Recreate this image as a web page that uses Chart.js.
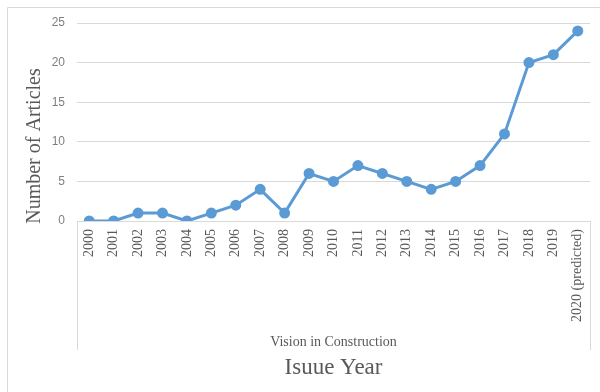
<!DOCTYPE html>
<html>
<head>
<meta charset="utf-8">
<script src="https://cdn.jsdelivr.net/npm/chart.js@4/dist/chart.umd.min.js"></script>
<style>
  html, body { margin: 0; padding: 0; background: #fff; }
  #wrap { width: 600px; height: 392px; }
</style>
</head>
<body>
<div id="wrap"><canvas id="chart" width="600" height="392"></canvas></div>
<script>
const years = ['2000', '2001', '2002', '2003', '2004', '2005', '2006', '2007', '2008', '2009', '2010',
  '2011', '2012', '2013', '2014', '2015', '2016', '2017', '2018', '2019', '2020 (predicted)'];
const articles = [0, 0, 1, 1, 0, 1, 2, 4, 1, 6, 5, 7, 6, 5, 4, 5, 7, 11, 20, 21, 24];
const groupLabel = 'Vision in Construction';
const xTitle = 'Isuue Year';
const yTitle = 'Number of Articles';

const grey = '#595959';
const tickGrey = '#7F7F7F';
const lineGrey = '#D9D9D9';

// frame, category group lines and the axis titles
const decorations = {
    id: 'decorations',
    afterDraw(chart) {
        const ctx = chart.ctx;
        const area = chart.chartArea;
        ctx.save();
        ctx.strokeStyle = lineGrey;
        ctx.lineWidth = 1;
        ctx.beginPath();
        ctx.moveTo(7.5, 400);
        ctx.lineTo(7.5, 7.5);
        ctx.lineTo(620, 7.5);
        // vertical separators of the category group
        ctx.moveTo(Math.round(area.left) + 0.5, area.bottom);
        ctx.lineTo(Math.round(area.left) + 0.5, 350);
        ctx.moveTo(Math.round(area.right) + 0.5, area.bottom);
        ctx.lineTo(Math.round(area.right) + 0.5, 350);
        ctx.stroke();

        ctx.fillStyle = grey;
        ctx.textAlign = 'center';
        ctx.textBaseline = 'middle';
        ctx.font = '14px "Liberation Serif", serif';
        ctx.fillText(groupLabel, (area.left + area.right) / 2, 342);
        ctx.font = '23px "Liberation Serif", serif';
        ctx.fillText(xTitle, (area.left + area.right) / 2, 368);

        ctx.translate(35, 146);
        ctx.rotate(-Math.PI / 2);
        ctx.font = '20px "Liberation Serif", serif';
        ctx.fillText(yTitle, 0, 0);
        ctx.restore();
    }
};

new Chart(document.getElementById('chart'), {
    type: 'line',
    data: {
        labels: years,
        datasets: [{
            data: articles,
            borderColor: '#5B9BD5',
            backgroundColor: '#5B9BD5',
            borderWidth: 3,
            pointRadius: 4,
            pointHoverRadius: 4,
            tension: 0
        }]
    },
    options: {
        responsive: false,
        animation: false,
        layout: { padding: { top: 23, right: 10, bottom: 0, left: 0 } },
        plugins: {
            legend: { display: false },
            tooltip: { enabled: false }
        },
        scales: {
            x: {
                offset: true,
                grid: { display: false, drawTicks: false },
                border: { display: true, color: lineGrey, width: 1 },
                ticks: {
                    color: grey,
                    font: { family: '"Liberation Serif", serif', size: 14 },
                    minRotation: 90,
                    maxRotation: 90,
                    autoSkip: false,
                    padding: 8
                },
                afterFit: scale => {
                    scale.height = 171;
                    scale.paddingLeft = 0;
                    scale.paddingRight = 0;
                }
            },
            y: {
                min: 0,
                max: 25,
                ticks: {
                    stepSize: 5,
                    color: tickGrey,
                    font: { family: '"Liberation Sans", sans-serif', size: 12 },
                    padding: 12
                },
                grid: { color: lineGrey, drawTicks: false },
                border: { display: false },
                afterFit: scale => { scale.width = 77; }
            }
        }
    },
    plugins: [decorations]
});
</script>
</body>
</html>
